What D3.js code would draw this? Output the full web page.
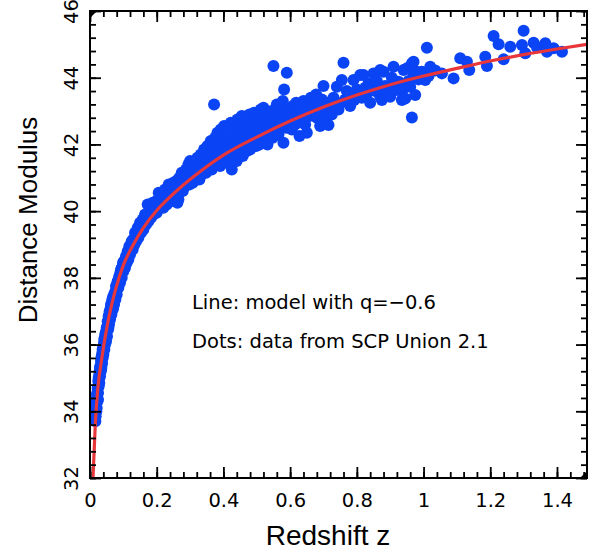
<!DOCTYPE html>
<html>
<head>
<meta charset="utf-8">
<script src="https://d3js.org/d3.v7.min.js"></script>
<style>
body{ margin:0; background:#fff; }
</style>
</head>
<body>
<svg id="chart" width="590" height="551"></svg>
<script>

// supernovae: [redshift z, distance modulus]
var snData = [
	[0.015,33.75],[0.016,34.0],[0.017,33.85],[0.018,34.2],[0.019,34.35],[0.020,34.1],[0.021,34.5],[0.022,34.3],
	[0.023,34.7],[0.024,34.55],[0.025,34.9],[0.026,34.75],[0.027,35.0],[0.028,34.85],[0.029,35.2],[0.030,35.05],
	[0.031,35.35],[0.032,35.2],[0.033,35.5],[0.034,35.3],[0.035,35.65],[0.036,35.45],[0.037,35.75],[0.038,35.6],
	[0.039,35.9],[0.040,35.7],[0.042,36.05],[0.043,35.85],[0.044,36.2],[0.045,36.0],[0.047,36.35],[0.048,36.1],
	[0.050,36.5],[0.051,36.25],[0.053,36.7],[0.054,36.45],[0.056,36.85],[0.057,36.6],[0.059,37.0],[0.060,36.75],
	[0.062,37.1],[0.064,36.9],[0.066,37.25],[0.068,37.05],[0.070,37.45],[0.072,37.2],[0.074,37.55],[0.076,37.35],
	[0.078,37.75],[0.080,37.5],[0.083,37.9],[0.085,37.7],[0.088,38.05],[0.090,37.85],[0.093,38.25],[0.095,38.0],
	[0.098,38.35],[0.100,38.2],
	[0.016,33.7],[0.019,34.0],[0.022,34.55],[0.024,34.35],[0.026,35.0],[0.028,35.1],[0.030,35.3],[0.033,35.25],
	[0.035,35.4],[0.038,35.85],[0.041,35.9],[0.043,36.15],[0.046,36.3],[0.049,36.4],[0.052,36.55],[0.055,36.5],
	[0.058,36.9],[0.061,36.95],[0.063,37.2],[0.067,37.35],[0.069,37.1],[0.073,37.4],[0.077,37.6],[0.081,37.8],
	[0.086,37.95],[0.091,38.15],[0.096,38.3],[0.099,38.45],
	[0.102,38.5],[0.105,38.3],[0.108,38.65],[0.110,38.45],[0.113,38.8],[0.115,38.55],[0.118,38.95],[0.120,38.7],
	[0.123,38.9],[0.125,39.1],[0.128,38.85],[0.130,39.15],[0.133,39.0],[0.135,39.35],[0.138,39.1],[0.140,39.3],
	[0.143,39.5],[0.145,39.2],[0.148,39.45],[0.150,39.65],[0.153,39.35],[0.155,39.55],[0.158,39.75],[0.160,39.45],
	[0.163,39.65],[0.165,39.9],[0.168,39.6],[0.170,39.8],[0.173,40.2],[0.175,39.7],[0.178,39.95],[0.180,40.1],
	[0.183,39.8],[0.185,40.0],[0.188,40.25],[0.190,39.9],[0.193,40.15],[0.195,40.05],[0.198,40.3],[0.200,39.95],
	[0.203,40.2],[0.206,40.55],[0.208,40.1],[0.210,40.35],[0.213,40.2],[0.215,40.5],[0.218,40.3],[0.220,40.1],
	[0.223,40.45],[0.225,40.65],[0.228,40.35],[0.230,40.2],[0.233,40.5],[0.236,40.8],[0.238,40.4],[0.240,40.6],
	[0.243,40.3],[0.245,40.75],[0.248,40.55],[0.250,40.85],[0.253,40.45],[0.255,40.7],[0.258,40.9],[0.260,40.5],
	[0.262,40.25],[0.263,40.8],[0.265,40.35],[0.268,41.0],[0.270,40.65],[0.273,40.85],[0.275,41.15],[0.278,40.6],
	[0.280,40.95],[0.283,41.1],[0.285,40.75],[0.288,41.25],[0.290,40.9],[0.293,41.05],[0.295,41.4],[0.298,40.8],
	[0.300,41.5],
	[0.302,41.05],[0.305,41.3],[0.308,40.85],[0.310,41.2],[0.312,41.45],[0.315,41.0],[0.318,41.35],[0.320,41.15],
	[0.322,41.6],[0.325,41.25],[0.328,40.95],[0.330,41.4],[0.332,41.7],[0.335,41.1],[0.338,41.5],[0.340,41.3],
	[0.342,41.85],[0.345,41.45],[0.348,41.15],[0.350,41.6],[0.352,41.95],[0.355,41.35],[0.358,41.75],[0.360,41.5],
	[0.362,42.1],[0.365,41.25],[0.368,41.65],[0.370,41.9],[0.372,43.2],[0.373,41.4],[0.375,42.2],[0.378,41.8],
	[0.380,41.55],[0.382,42.35],[0.385,41.7],[0.388,42.0],[0.390,41.35],[0.392,42.45],[0.395,41.85],[0.398,42.1],
	[0.400,41.6],[0.402,42.55],[0.405,41.95],[0.408,41.45],[0.410,42.25],[0.412,41.75],[0.415,42.4],[0.418,42.05],
	[0.420,41.55],[0.422,42.65],[0.425,41.25],[0.428,41.9],[0.430,42.2],[0.432,41.7],[0.435,42.5],[0.438,42.0],
	[0.440,41.5],[0.442,42.75],[0.445,42.3],[0.448,41.85],[0.450,42.6],[0.452,42.1],[0.455,42.85],[0.458,41.65],
	[0.460,42.4],[0.462,42.0],[0.465,42.7],[0.468,42.25],[0.470,41.8],[0.472,42.5],[0.475,42.1],[0.478,42.9],
	[0.480,41.85],[0.482,42.35],[0.485,42.65],[0.488,42.05],[0.490,42.45],[0.492,42.95],[0.495,42.2],[0.498,41.95],
	[0.500,42.6],
	[0.502,42.3],[0.505,42.75],[0.508,42.0],[0.510,42.5],[0.512,43.05],[0.515,42.25],[0.518,42.65],[0.520,43.1],
	[0.522,42.4],[0.525,42.15],[0.528,42.8],[0.530,42.55],[0.532,42.0],[0.535,42.9],[0.538,42.35],[0.540,42.7],
	[0.542,42.45],[0.545,43.0],[0.548,42.2],[0.550,44.35],[0.552,42.6],[0.555,42.85],[0.558,42.4],[0.560,43.2],
	[0.562,42.7],[0.565,42.3],[0.568,42.95],[0.570,42.55],[0.572,43.1],[0.575,42.75],[0.578,43.3],[0.580,42.05],
	[0.582,43.65],[0.585,42.85],[0.588,42.5],[0.590,44.15],[0.592,42.95],[0.595,42.65],[0.598,43.05],[0.600,42.8],
	[0.605,42.45],[0.608,43.15],[0.610,42.9],[0.615,42.6],[0.618,43.25],[0.620,42.95],[0.625,42.7],[0.628,42.25],
	[0.630,43.05],[0.635,42.85],[0.640,43.3],[0.645,42.6],[0.650,42.35],[0.652,43.1],[0.658,42.85],[0.662,43.4],
	[0.668,42.95],[0.672,43.15],[0.678,43.5],[0.680,42.8],[0.685,43.2],[0.690,42.55],[0.695,43.35],[0.700,43.75],
	[0.702,43.0],
	[0.705,42.7],[0.712,43.25],[0.715,42.58],[0.720,43.13],[0.725,42.9],[0.730,43.4],[0.740,43.73],[0.745,43.05],
	[0.750,43.23],[0.755,43.93],[0.760,44.45],[0.765,43.35],[0.770,43.6],[0.780,43.15],[0.790,43.93],[0.792,43.33],
	[0.795,43.43],[0.800,43.65],[0.810,44.08],[0.815,43.4],[0.820,44.08],[0.825,43.7],[0.830,43.53],[0.835,43.83],
	[0.840,43.25],[0.850,44.13],[0.855,43.6],[0.860,43.9],[0.870,43.43],[0.870,44.23],[0.875,43.33],[0.880,44.18],
	[0.885,43.75],[0.890,43.63],[0.900,43.43],[0.900,43.63],[0.905,44.0],[0.910,44.33],[0.920,43.63],[0.925,43.88],
	[0.935,43.33],[0.940,43.68],[0.940,44.23],[0.945,43.38],[0.950,44.28],[0.955,43.9],[0.960,43.73],[0.965,44.43],
	[0.965,42.81],[0.970,44.13],[0.970,44.48],[0.975,43.48],[0.980,44.18],[0.985,43.95],[0.995,44.18],
	[1.005,43.93],[1.010,44.9],[1.015,44.05],[1.020,44.33],[1.035,44.22],[1.055,44.13],[1.090,43.98],[1.110,44.58],
	[1.130,44.48],[1.137,44.23],[1.185,44.63],[1.190,44.35],[1.210,45.25],[1.225,45.0],[1.240,44.55],[1.260,44.93],
	[1.295,44.98],[1.300,45.41],[1.305,44.73],[1.330,45.05],[1.340,44.91],[1.365,45.03],[1.370,44.78],[1.390,44.88],
	[1.415,44.78]
];

// red model curve (q = -0.6)
var modelZ  = [0.009,0.016,0.023,0.036,0.053,0.065,0.078,0.1,0.13,0.16,0.2,0.23,0.27,0.31,0.4,0.5,0.6,0.7,0.8,0.9,1.0,1.1,1.2,1.3,1.4,1.49];
var modelMu = [32.0,33.64,34.63,35.63,36.64,37.2,37.7,38.38,39.0,39.5,40.02,40.33,40.7,41.03,41.68,42.22,42.7,43.12,43.48,43.79,44.05,44.28,44.5,44.69,44.86,45.0];

var xTicks = [0,0.2,0.4,0.6,0.8,1,1.2,1.4];
var yTicks = [32,34,36,38,40,42,44,46];
var notes = ['Line: model with q=\u22120.6','Dots: data from SCP Union 2.1'];

//--------------------------------------------------

var plotLeft = 90, plotRight = 587, plotTop = 11, plotBottom = 478;

var x = d3.scaleLinear().domain([0,1.49]).range([plotLeft,plotRight]);
var y = d3.scaleLinear().domain([32,46]).range([plotBottom,plotTop]);

var svg = d3.select('#chart');

svg.append('defs').append('clipPath')
	.attr('id','plotClip')
	.append('rect')
	.attr('x',plotLeft).attr('y',plotTop)
	.attr('width',plotRight-plotLeft).attr('height',plotBottom-plotTop);

var plot = svg.append('g').attr('clip-path','url(#plotClip)');

plot.selectAll('.sn')
	.data(snData)
	.enter()
	.append('circle')
	.attr('class','sn')
	.attr('cx',function(d){ return x(d[0]) })
	.attr('cy',function(d){ return y(d[1]) })
	.attr('r',6)
	.attr('fill','#0a44f4');

var modelLine = d3.line()
	.x(function(d,i){ return x(modelZ[i]) })
	.y(function(d,i){ return y(modelMu[i]) })
	.curve(d3.curveMonotoneX);

plot.append('path')
	.attr('d',modelLine(modelZ))
	.attr('fill','none')
	.attr('stroke','#e8373b')
	.attr('stroke-width',3.2);

// ticks: minor every 0.04 / 0.4, major every 0.2 / 2, all pointing inward
var minorX = d3.range(0,1.49,0.04);
var minorY = d3.range(32,46.01,0.4);

function styleAxis(g){
	g.select('.domain').remove();
	g.selectAll('.tick line').attr('stroke','#000').attr('stroke-width',1.8);
}

svg.append('g').attr('transform','translate(0,'+plotBottom+')')
	.call(d3.axisBottom(x).tickValues(minorX).tickSize(-6).tickFormat(''))
	.call(styleAxis);
svg.append('g').attr('transform','translate(0,'+plotTop+')')
	.call(d3.axisTop(x).tickValues(minorX).tickSize(-6).tickFormat(''))
	.call(styleAxis);
svg.append('g').attr('transform','translate('+plotLeft+',0)')
	.call(d3.axisLeft(y).tickValues(minorY).tickSize(-6).tickFormat(''))
	.call(styleAxis);
svg.append('g').attr('transform','translate('+plotRight+',0)')
	.call(d3.axisRight(y).tickValues(minorY).tickSize(-6).tickFormat(''))
	.call(styleAxis);

var xAxis = svg.append('g').attr('transform','translate(0,'+plotBottom+')')
	.call(d3.axisBottom(x).tickValues(xTicks).tickSize(-11).tickPadding(15).tickFormat(d3.format('')))
	.call(styleAxis);
svg.append('g').attr('transform','translate(0,'+plotTop+')')
	.call(d3.axisTop(x).tickValues(xTicks).tickSize(-11).tickFormat(''))
	.call(styleAxis);
var yAxis = svg.append('g').attr('transform','translate('+plotLeft+',0)')
	.call(d3.axisLeft(y).tickValues(yTicks).tickSize(-11).tickFormat(d3.format('')))
	.call(styleAxis);
svg.append('g').attr('transform','translate('+plotRight+',0)')
	.call(d3.axisRight(y).tickValues(yTicks).tickSize(-11).tickFormat(''))
	.call(styleAxis);

xAxis.selectAll('text')
	.attr('fill','#000')
	.style('font-family','DejaVu Sans')
	.style('font-size','19.5px');

yAxis.selectAll('text')
	.attr('fill','#000')
	.attr('x',0).attr('y',-12).attr('dy',0)
	.attr('transform','rotate(-90)')
	.style('text-anchor','middle')
	.style('font-family','DejaVu Sans')
	.style('font-size','19.5px');

// frame
svg.append('rect')
	.attr('x',plotLeft).attr('y',plotTop)
	.attr('width',plotRight-plotLeft).attr('height',plotBottom-plotTop)
	.attr('fill','none')
	.attr('stroke','#000')
	.attr('stroke-width',2);

// small corner wedges
svg.append('path').attr('d','M'+plotLeft+','+plotTop+'l7,0l-7,7z').attr('fill','#000');
svg.append('path').attr('d','M'+plotRight+','+plotBottom+'l-7,0l7,-7z').attr('fill','#000');

// titles
svg.append('text')
	.attr('x',328).attr('y',545)
	.style('text-anchor','middle')
	.style('font-family','Liberation Sans')
	.style('font-size','28px')
	.text('Redshift z');

svg.append('text')
	.attr('transform','translate(37,220) rotate(-90)')
	.style('text-anchor','middle')
	.style('font-family','Liberation Sans')
	.style('font-size','26px')
	.text('Distance Modulus');

svg.selectAll('.note')
	.data(notes)
	.enter()
	.append('text')
	.attr('class','note')
	.attr('x',192)
	.attr('y',function(d,i){ return 309+i*39 })
	.style('font-family','DejaVu Sans')
	.style('font-size','19.5px')
	.text(function(d){ return d });

</script>
</body>
</html>
